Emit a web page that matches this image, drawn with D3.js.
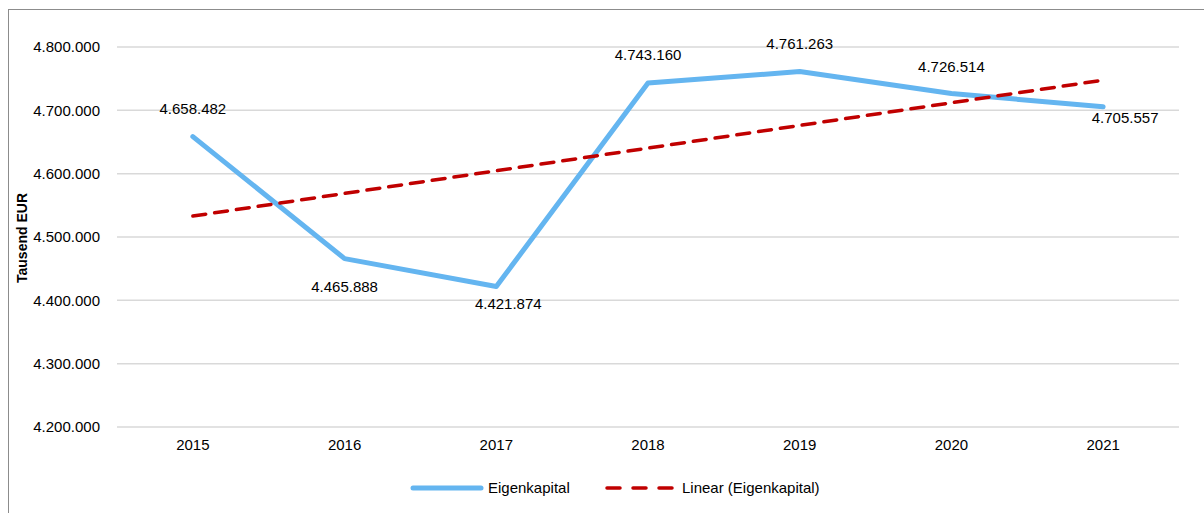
<!DOCTYPE html>
<html><head><meta charset="utf-8">
<script src="https://cdn.jsdelivr.net/npm/d3@7"></script>
<style>body{margin:0;background:#fff}svg{display:block;font-family:"Liberation Sans",Arial,sans-serif}</style>
</head><body>
<script>
const categories = ["2015","2016","2017","2018","2019","2020","2021"];
const values = [4658482,4465888,4421874,4743160,4761263,4726514,4705557];
const yTicks = [4200000,4300000,4400000,4500000,4600000,4700000,4800000];
const seriesName = "Eigenkapital";
const trendName = "Linear (Eigenkapital)";
const yTitle = "Tausend EUR";

const W = 1204, H = 513;
const FS = 15;
const svg = d3.select("body").append("svg").attr("width", W).attr("height", H);
svg.append("rect").attr("x",8.5).attr("y",9.5).attr("width",1210).attr("height",520)
  .attr("fill","none").attr("stroke","#8c8c8c").attr("stroke-width",1);

const x = d3.scaleBand().domain(categories).range([117,1179]);
const y = d3.scaleLinear().domain([4200000,4800000]).range([427,47]);
const fmt = v => d3.format(",")(v).replace(/,/g,".");

svg.append("g").selectAll("line").data(yTicks).join("line")
  .attr("x1",117).attr("x2",1179).attr("y1",d=>y(d)).attr("y2",d=>y(d))
  .attr("stroke","#d9d9d9").attr("stroke-width",1.5);

const yAxis = svg.append("g").attr("transform","translate(117,0)")
  .call(d3.axisLeft(y).tickValues(yTicks).tickFormat(fmt).tickSize(0).tickPadding(17));
yAxis.select(".domain").remove();
yAxis.selectAll("text").attr("font-size",FS).attr("fill","#000").style("font-family","inherit");

const xAxis = svg.append("g").attr("transform","translate(0,427)")
  .call(d3.axisBottom(x).tickSize(0).tickPadding(12));
xAxis.select(".domain").remove();
xAxis.selectAll("text").attr("font-size",FS).attr("fill","#000").style("font-family","inherit");

svg.append("text").attr("transform","translate(27,238) rotate(-90)")
  .attr("text-anchor","middle").attr("font-size",14).attr("font-weight","bold").text(yTitle);

// linear regression trend
const n = values.length, xm = (n-1)/2, ym = d3.mean(values);
const slope = d3.sum(values,(v,i)=>(i-xm)*(v-ym))/d3.sum(values,(v,i)=>(i-xm)*(i-xm));
const icpt = ym - slope*xm;
const cx = c => x(c)+x.bandwidth()/2;

const line = d3.line().x((d,i)=>cx(categories[i])).y(d=>y(d));
svg.append("path").datum(values).attr("d",line).attr("fill","none")
  .attr("stroke","#64b5f0").attr("stroke-width",5).attr("stroke-linecap","round").attr("stroke-linejoin","round");

const trend = [icpt, icpt+slope*(n-1)];
svg.append("path").attr("d",`M${cx(categories[0])},${y(trend[0])}L${cx(categories[n-1])},${y(trend[1])}`)
  .attr("fill","none").attr("stroke","#c00000").attr("stroke-width",3.5).attr("stroke-dasharray","13,9").attr("stroke-linecap","round");

const offs = [[0,-23],[0,33],[12,23],[0,-23],[0,-23],[0,-22],[22,16]];
svg.append("g").selectAll("text").data(values).join("text")
  .attr("x",(d,i)=>cx(categories[i])+offs[i][0]).attr("y",(d,i)=>y(d)+offs[i][1])
  .attr("text-anchor","middle").attr("font-size",FS).attr("fill","#000").text(fmt);

const lg = svg.append("g");
lg.append("line").attr("x1",413).attr("x2",481).attr("y1",488).attr("y2",488)
  .attr("stroke","#64b5f0").attr("stroke-width",5).attr("stroke-linecap","round");
lg.append("text").attr("x",488).attr("y",493).attr("font-size",FS).text(seriesName);
lg.append("line").attr("x1",607).attr("x2",674).attr("y1",488).attr("y2",488)
  .attr("stroke","#c00000").attr("stroke-width",3.5).attr("stroke-dasharray","13,13").attr("stroke-linecap","round");
lg.append("text").attr("x",682).attr("y",493).attr("font-size",FS).text(trendName);
</script>
</body></html>
